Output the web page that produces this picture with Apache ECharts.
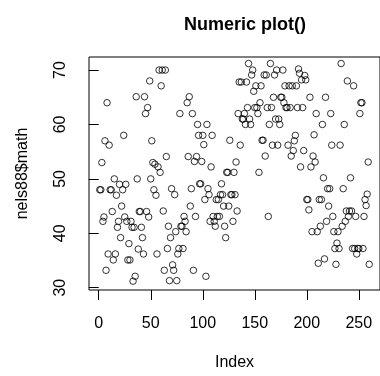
<!DOCTYPE html>
<html><head><meta charset="utf-8">
<script src="https://cdn.jsdelivr.net/npm/echarts@6/dist/echarts.min.js"></script>
<style>html,body{margin:0;padding:0;background:#fff}#c{width:380px;height:376px}</style>
</head><body><div id="c"></div>
<script>
const titleText = 'Numeric plot()';
const xName = 'Index';
const yName = 'nels88$math';
const xTicks = [0, 50, 100, 150, 200, 250];
const yTicks = [30, 40, 50, 60, 70];
const yMin = 29.58, yMax = 72.4;
const math = [
48,48,53,42.2,43,57,33.2,64,36.2,56.2,
48,48,44,35.1,50,36.2,47,41.1,42.2,49,
39.2,45,48,58,43,49,42.2,35.1,38.1,35.1,
42.2,41.1,31.2,41.1,32.1,65.1,50,37.1,44,44,
41.1,39.2,36.2,65.1,62,44,63.1,43,68,50,
57,53,48,52.7,47,36.2,52.2,70,51.2,67.1,
70,44.1,33.2,70,54.1,37.2,41.3,31.3,39.2,48.2,
34.2,33.2,47.1,40.3,31.3,36.2,37.2,62,41.3,41.3,
37.2,43.1,42.2,40.3,64,54.1,65.1,45,48.2,62,
33.2,53.2,43.1,54.1,60,58,49.1,49.1,53.2,58,
56.3,46.2,32.1,60,48.2,47.1,42.2,52.2,58,43.1,
42.2,41.3,46.2,43.1,46.2,43.1,47.1,49.1,47.1,45,
41.3,39.2,51.2,
51.2,45,57.1,47.1,47.1,42.2,51.2,47.1,53.1,44.1,
62,67.8,56.2,67.8,61,61,62,60,67.8,63.1,
71.2,61,60,69.1,70,66.1,63.1,67.1,63.1,62,
51.2,64,67.1,57.1,57.1,69.1,54.2,69.1,63.1,43.1,
60,71.2,63.1,56.2,65,69.1,61,70,56.2,61,
60,65,65,70,64,67.1,63.1,63.1,56.2,67.1,
63.1,54.2,67.1,55.2,57,58,67.1,63.1,
70.2,69.4,52.2,68.2,63.1,55.2,69,68.2,46.2,46.2,
44.3,65,52.2,40.3,54.2,58.1,53.1,62,40.3,34.5,
46.2,41.3,46.2,60,50.2,35.3,65,42.2,48.2,45,48.2,
62,56.2,43.1,40.3,37.2,34.3,38.2,40.3,37.2,56.2,
71.2,41.3,48.2,60,42.2,44.1,68,43.1,44.1,50.2,44.1,
37.2,67.1,37.2,43.1,36.2,37.2,37.2,62,64,64,37.2,43.1,
46.2,45.1,47.2,53.1,34.3
];
const n = math.length;
const pad = (n - 1) * 0.04;
const FONT = '"Liberation Sans", Arial, Helvetica, sans-serif';
const chart = echarts.init(document.getElementById('c'), null, {renderer: 'canvas'});
chart.setOption({
  animation: false,
  backgroundColor: '#ffffff',
  title: {
    text: titleText, left: 240, top: 11, textAlign: 'center',
    textStyle: {fontFamily: FONT, fontSize: 18, fontWeight: 'bold', color: '#000'}
  },
  grid: {left: 89, top: 57, right: -10, bottom: 82, show: true, borderColor: '#000', borderWidth: 1, backgroundColor: 'transparent'},
  xAxis: {
    type: 'value', min: 1 - pad, max: n + pad,
    name: xName, nameLocation: 'middle', nameGap: 65,
    nameTextStyle: {fontFamily: FONT, fontSize: 16, color: '#000', verticalAlign: 'top'},
    axisLine: {show: false},
    splitLine: {show: false},
    axisTick: {show: true, customValues: xTicks, length: 10, lineStyle: {color: '#000', width: 1}},
    axisLabel: {show: true, customValues: xTicks, margin: 26, fontFamily: FONT, fontSize: 16, color: '#000', showMinLabel: true, showMaxLabel: true}
  },
  yAxis: {
    type: 'value', min: yMin, max: yMax,
    name: yName, nameLocation: 'middle', nameGap: 58,
    nameTextStyle: {fontFamily: FONT, fontSize: 16, color: '#000'},
    axisLine: {show: false},
    splitLine: {show: false},
    axisTick: {show: true, customValues: yTicks, length: 10, lineStyle: {color: '#000', width: 1}},
    axisLabel: {show: true, customValues: yTicks, rotate: 90, margin: 20, fontFamily: FONT, fontSize: 16, color: '#000'}
  },
  series: [{
    type: 'scatter',
    data: math.map((v, i) => [i + 1, v]),
    symbol: 'circle', symbolSize: 6.5,
    itemStyle: {color: 'rgba(0,0,0,0)', borderColor: '#000', borderWidth: 1},
    emphasis: {disabled: true}
  }]
});
</script></body></html>
